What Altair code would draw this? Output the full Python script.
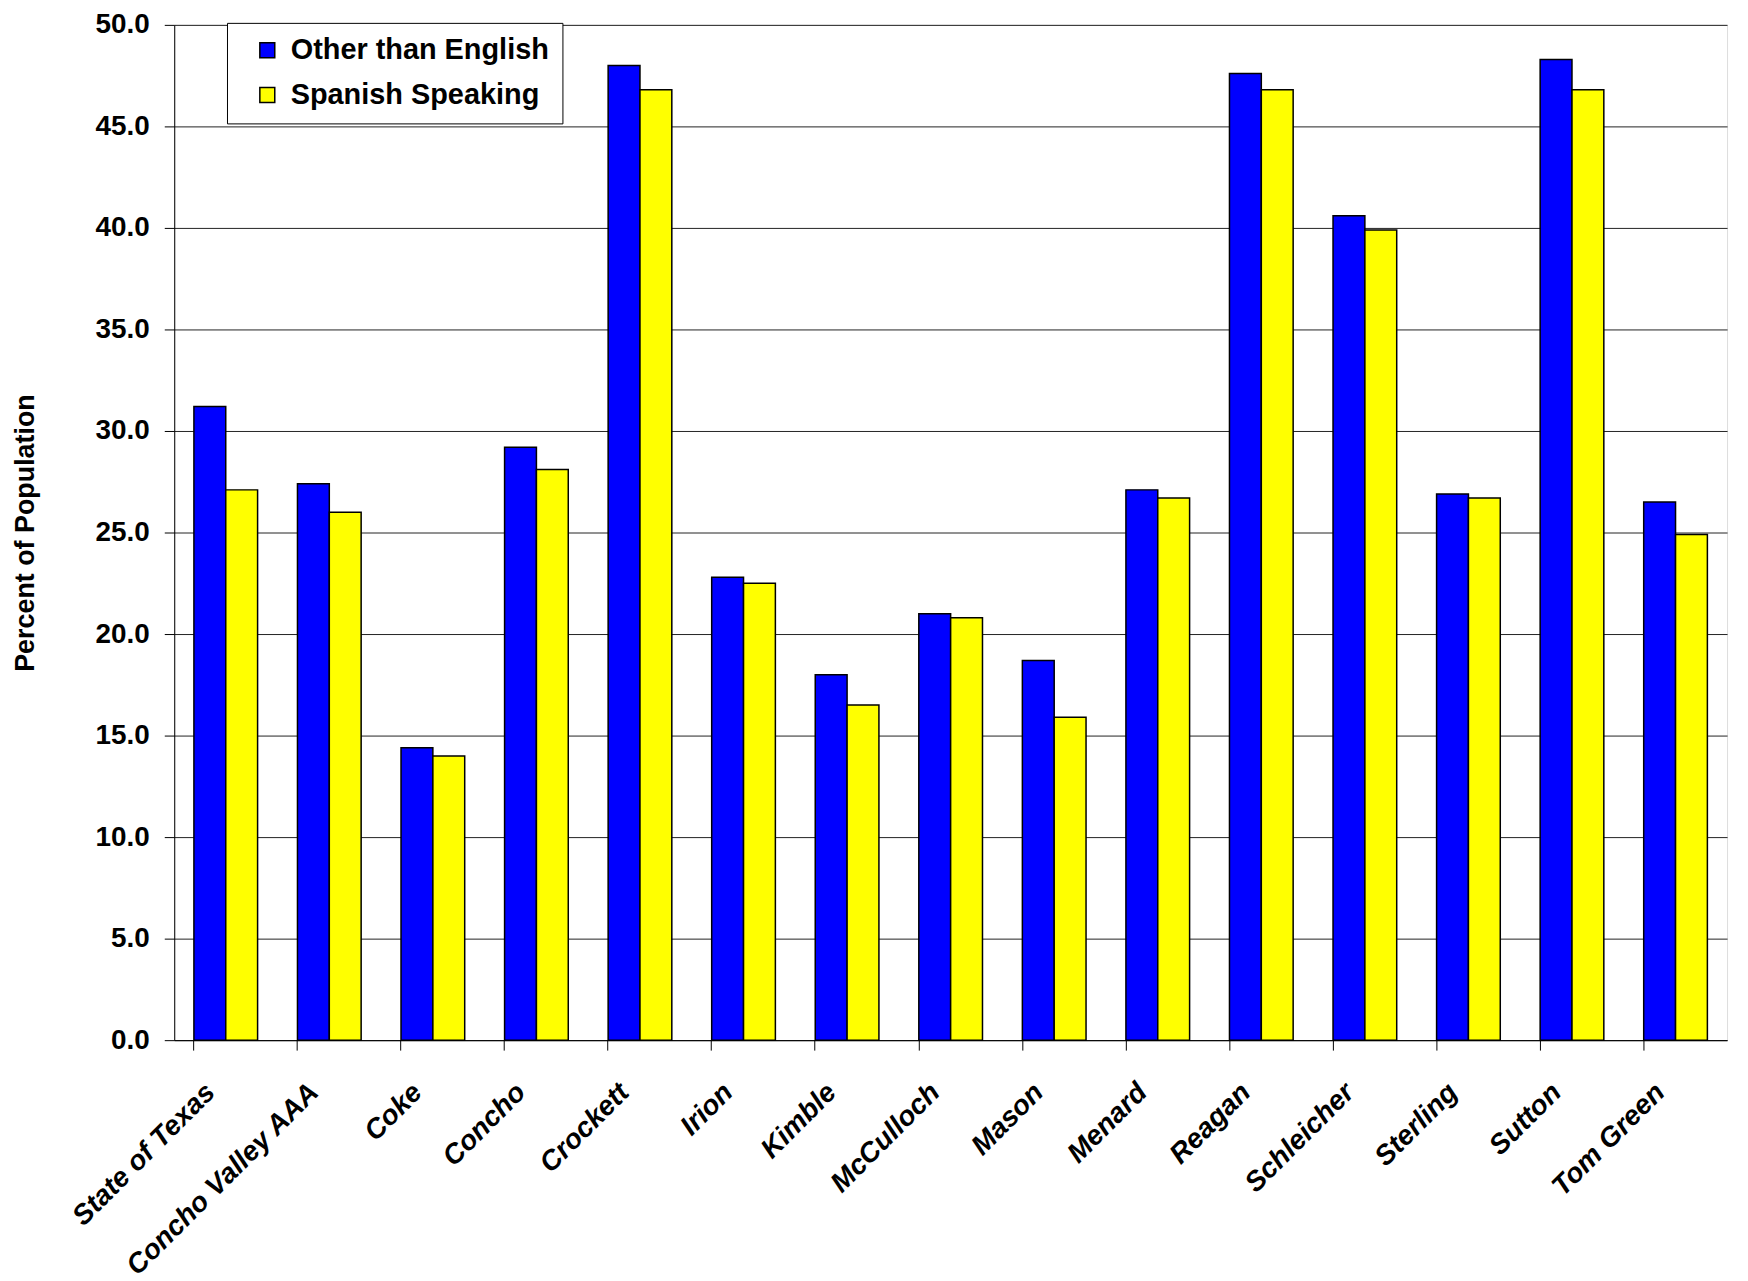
import altair as alt
import pandas as pd

categories = ["State of Texas", "Concho Valley AAA", "Coke", "Concho", "Crockett",
              "Irion", "Kimble", "McCulloch", "Mason", "Menard", "Reagan",
              "Schleicher", "Sterling", "Sutton", "Tom Green"]
other_than_english = [31.2, 27.4, 14.4, 29.2, 48.0, 22.8, 18.0, 21.0, 18.7, 27.1,
                      47.6, 40.6, 26.9, 48.3, 26.5]
spanish_speaking = [27.1, 26.0, 14.0, 28.1, 46.8, 22.5, 16.5, 20.8, 15.9, 26.7,
                    46.8, 39.9, 26.7, 46.8, 24.9]
series_names = ["Other than English", "Spanish Speaking"]
series_colors = ["#0000FF", "#FFFF00"]
y_ticks = [0, 5, 10, 15, 20, 25, 30, 35, 40, 45, 50]

rows = []
for c, a, b in zip(categories, other_than_english, spanish_speaking):
    rows.append({"cat": c, "series": series_names[0], "value": a})
    rows.append({"cat": c, "series": series_names[1], "value": b})
df = pd.DataFrame(rows)

FONT = "Liberation Sans"

chart = alt.Chart(df).mark_bar(stroke="black", strokeWidth=1.5).encode(
    x=alt.X("cat:N", sort=categories, title=None,
            scale=alt.Scale(paddingInner=0.385, paddingOuter=0.19),
            axis=alt.Axis(bandPosition=0, labelAngle=-45, labelAlign="right",
                          labelBaseline="middle", labelOffset=-15, labelPadding=38,
                          labelFont=FONT, labelFontSize=28, labelFontWeight="bold",
                          labelFontStyle="italic", labelColor="black",
                          tickSize=10, tickColor="black", domainColor="black",
                          grid=False, labelOverlap=False, labelLimit=400)),
    xOffset=alt.XOffset("series:N", sort=series_names,
                        scale=alt.Scale(paddingInner=0, paddingOuter=0)),
    y=alt.Y("value:Q", title="Percent of Population",
            scale=alt.Scale(domain=[0, 50], nice=False),
            axis=alt.Axis(values=y_ticks, format=".1f", labelFont=FONT,
                          labelFontSize=28, labelFontWeight="bold", labelColor="black",
                          labelPadding=15, tickSize=10, tickColor="black",
                          domainColor="black", gridColor="#222222", gridWidth=1,
                          titleFont=FONT, titleFontSize=27, titleFontWeight="bold",
                          titleColor="black", titlePadding=56)),
    color=alt.Color("series:N", sort=series_names,
                    scale=alt.Scale(domain=series_names, range=series_colors),
                    legend=alt.Legend(title=None, orient="none", legendX=53, legendY=-2,
                                      fillColor="white", strokeColor="black",
                                      padding=13, symbolType="square", symbolSize=225,
                                      symbolStrokeColor="black", symbolStrokeWidth=1.5,
                                      symbolOffset=13, labelOffset=9, labelLimit=500,
                                      labelFont=FONT, labelFontSize=29,
                                      labelFontWeight="bold", labelColor="black",
                                      rowPadding=15)),
).properties(
    width=1560, height=1020,
    autosize=alt.AutoSizeParams(type="none"),
    padding={"left": 167, "top": 14, "right": 13, "bottom": 239},
).configure_view(stroke="#808080", strokeWidth=1.5).configure(background="white")

chart.save("out.html", embed_options={"renderer": "svg", "actions": False})
